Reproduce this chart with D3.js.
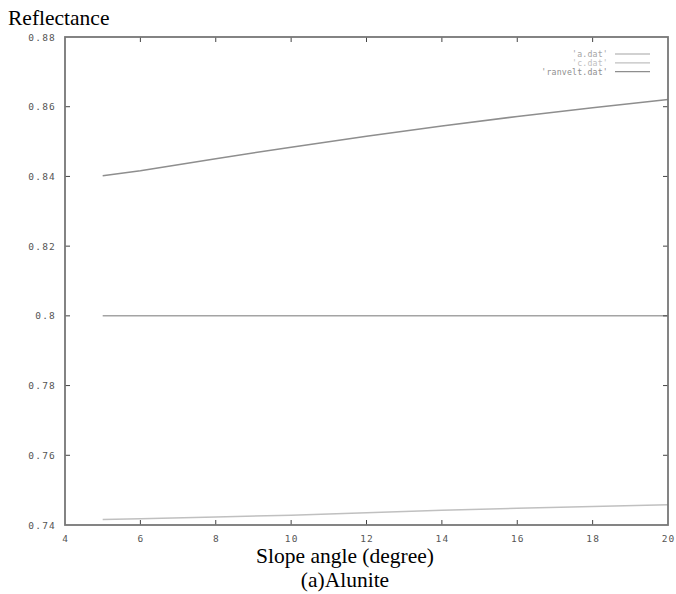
<!DOCTYPE html>
<html>
<head>
<meta charset="utf-8">
<script src="https://cdn.jsdelivr.net/npm/d3@7"></script>
<style>
  body { margin: 0; background: #fff; }
  .tick-label { font-family: "DejaVu Sans Mono", monospace; font-size: 9.5px; letter-spacing: 1.2px; fill: #555; }
  .legend-label { font-family: "DejaVu Sans Mono", monospace; font-size: 8.2px; letter-spacing: 0.2px; }
  .title { font-family: "Liberation Serif", "Times New Roman", serif; font-size: 21.5px; fill: #000; }
</style>
</head>
<body>
<svg id="chart" width="676" height="594"></svg>
<script>
// data
var slope = [5, 6, 8, 10, 12, 14, 16, 18, 20];
var aDat = [0.8, 0.8, 0.8, 0.8, 0.8, 0.8, 0.8, 0.8, 0.8];
var cDat = [0.7416, 0.7418, 0.7423, 0.7428, 0.7435, 0.7442, 0.7448, 0.7453, 0.7458];
var ranveltDat = [0.8402, 0.8416, 0.8451, 0.8484, 0.8515, 0.8545, 0.8572, 0.8597, 0.8621];
var xTicks = [4, 6, 8, 10, 12, 14, 16, 18, 20];
var yTicks = [0.74, 0.76, 0.78, 0.8, 0.82, 0.84, 0.86, 0.88];

var seriesNames = ["'a.dat'", "'c.dat'", "'ranvelt.dat'"];
var seriesColors = ['#a4a4a4', '#c0c0c0', '#8e8e8e'];

var svg = d3.select('#chart');
var margin = { left: 65, right: 8, top: 37, bottom: 69 };
var width = 676 - margin.left - margin.right;
var height = 594 - margin.top - margin.bottom;

var x = d3.scaleLinear().domain([4, 20]).range([0, width]);
var y = d3.scaleLinear().domain([0.74, 0.88]).range([height, 0]);

var g = svg.append('g').attr('transform', 'translate(' + margin.left + ',' + margin.top + ')');

var series = [aDat, cDat, ranveltDat].map(function (vals, i) {
  return {
    name: seriesNames[i],
    color: seriesColors[i],
    values: slope.map(function (s, j) { return { x: s, y: vals[j] }; })
  };
});

var line = d3.line()
  .x(function (d) { return x(d.x); })
  .y(function (d) { return y(d.y); });

g.selectAll('.line')
  .data(series)
  .enter()
  .append('path')
  .attr('class', 'line')
  .attr('d', function (d) { return line(d.values); })
  .attr('stroke', function (d) { return d.color; })
  .attr('stroke-width', 1.5)
  .attr('fill', 'none');

// inward ticks on all four sides (gnuplot style)
var tickLen = 5;
var tickColor = '#444';
xTicks.forEach(function (t) {
  if (t === 4 || t === 20) return;
  g.append('line').attr('x1', x(t)).attr('x2', x(t)).attr('y1', height).attr('y2', height - tickLen)
    .attr('stroke', tickColor).attr('stroke-width', 1);
  g.append('line').attr('x1', x(t)).attr('x2', x(t)).attr('y1', 0).attr('y2', tickLen)
    .attr('stroke', tickColor).attr('stroke-width', 1);
});
yTicks.forEach(function (t) {
  if (t === 0.74 || t === 0.88) return;
  g.append('line').attr('x1', 0).attr('x2', tickLen).attr('y1', y(t)).attr('y2', y(t))
    .attr('stroke', tickColor).attr('stroke-width', 1);
  g.append('line').attr('x1', width).attr('x2', width - tickLen).attr('y1', y(t)).attr('y2', y(t))
    .attr('stroke', tickColor).attr('stroke-width', 1);
});

// frame
g.append('rect')
  .attr('x', 0).attr('y', 0)
  .attr('width', width).attr('height', height)
  .attr('fill', 'none')
  .attr('stroke', '#777')
  .attr('stroke-width', 1.8);

// tick labels
g.selectAll('.xlab')
  .data(xTicks)
  .enter()
  .append('text')
  .attr('class', 'tick-label')
  .attr('x', function (d) { return x(d) + 0.6; })
  .attr('y', height + 17)
  .attr('text-anchor', 'middle')
  .text(function (d) { return d; });

g.selectAll('.ylab')
  .data(yTicks)
  .enter()
  .append('text')
  .attr('class', 'tick-label')
  .attr('x', -9)
  .attr('y', function (d) { return y(d) + 3.5; })
  .attr('text-anchor', 'end')
  .text(function (d) { return d3.format('.2~f')(d); });

// legend
var legend = g.selectAll('.legend')
  .data(series)
  .enter()
  .append('g')
  .attr('class', 'legend')
  .attr('transform', function (d, i) { return 'translate(0,' + (17 + i * 8.8) + ')'; });

legend.append('text')
  .attr('class', 'legend-label')
  .attr('x', 543)
  .attr('y', 3)
  .attr('text-anchor', 'end')
  .attr('fill', function (d) { return d.color; })
  .text(function (d) { return d.name; });

legend.append('line')
  .attr('x1', 550).attr('x2', 585)
  .attr('y1', 0).attr('y2', 0)
  .attr('stroke', function (d) { return d.color; })
  .attr('stroke-width', 1.2);

// titles
svg.append('text').attr('class', 'title')
  .attr('x', 8).attr('y', 25)
  .text('Reflectance');

svg.append('text').attr('class', 'title')
  .attr('x', 345).attr('y', 563)
  .attr('text-anchor', 'middle')
  .text('Slope angle (degree)');

svg.append('text').attr('class', 'title')
  .attr('x', 345).attr('y', 587)
  .attr('text-anchor', 'middle')
  .text('(a)Alunite');
</script>
</body>
</html>
